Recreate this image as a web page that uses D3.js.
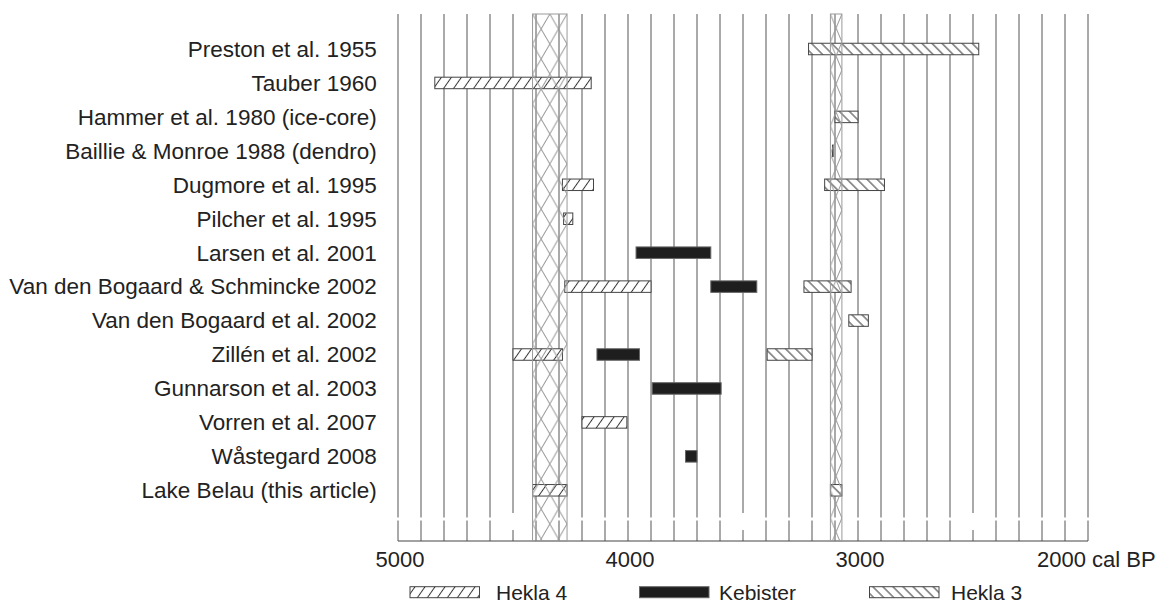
<!DOCTYPE html>
<meta charset="utf-8">
<head>
    <script src="https://d3js.org/d3.v7.min.js"></script>
    <style>
        body { margin: 0; background: #fff; }
        text { font-family: "Liberation Sans", Arial, Helvetica, sans-serif; fill: #222; }
    </style>
</head>
<body>
<div id="chart"></div>
<script>
    // data, years cal BP
    var studies = [
        "Preston et al. 1955",
        "Tauber 1960",
        "Hammer et al. 1980 (ice-core)",
        "Baillie & Monroe 1988 (dendro)",
        "Dugmore et al. 1995",
        "Pilcher et al. 1995",
        "Larsen et al. 2001",
        "Van den Bogaard & Schmincke 2002",
        "Van den Bogaard et al. 2002",
        "Zillén et al. 2002",
        "Gunnarson et al. 2003",
        "Vorren et al. 2007",
        "Wåstegard 2008",
        "Lake Belau (this article)"
    ];

    var hekla4 = [
        {study: "Tauber 1960", from: 4840, to: 4160},
        {study: "Dugmore et al. 1995", from: 4285, to: 4150},
        {study: "Pilcher et al. 1995", from: 4280, to: 4240},
        {study: "Van den Bogaard & Schmincke 2002", from: 4275, to: 3900},
        {study: "Zillén et al. 2002", from: 4500, to: 4285},
        {study: "Vorren et al. 2007", from: 4200, to: 4005},
        {study: "Lake Belau (this article)", from: 4415, to: 4265}
    ];

    var kebister = [
        {study: "Larsen et al. 2001", from: 3965, to: 3640},
        {study: "Van den Bogaard & Schmincke 2002", from: 3640, to: 3440},
        {study: "Zillén et al. 2002", from: 4135, to: 3950},
        {study: "Gunnarson et al. 2003", from: 3895, to: 3595},
        {study: "Wåstegard 2008", from: 3750, to: 3700}
    ];

    var hekla3 = [
        {study: "Preston et al. 1955", from: 3215, to: 2475},
        {study: "Hammer et al. 1980 (ice-core)", from: 3100, to: 3000},
        {study: "Baillie & Monroe 1988 (dendro)", from: 3111, to: 3108},
        {study: "Dugmore et al. 1995", from: 3145, to: 2885},
        {study: "Van den Bogaard & Schmincke 2002", from: 3235, to: 3030},
        {study: "Van den Bogaard et al. 2002", from: 3040, to: 2955},
        {study: "Zillén et al. 2002", from: 3395, to: 3200},
        {study: "Lake Belau (this article)", from: 3120, to: 3070}
    ];

    // Lake Belau ranges drawn as bands through the chart
    var bands = [
        {from: 4415, to: 4265},
        {from: 3120, to: 3070}
    ];

    var xTicks = [5000, 4000, 3000, 2000];
    var gridYears = d3.range(5000, 1999, -100);

    var width = 1158, height = 604;
    var plotTop = 14, axisY = 541;

    var svg = d3.select("#chart").append("svg")
        .attr("width", width)
        .attr("height", height);

    var x = d3.scaleLinear().domain([5000, 2000]).range([398, 1088]);
    var y = d3.scalePoint().domain(studies).range([49, 490.3]);
    var barH = 11.5;

    // patterns
    var defs = svg.append("defs");
    function hatch(id, angle, size) {
        var p = defs.append("pattern")
            .attr("id", id)
            .attr("patternUnits", "userSpaceOnUse")
            .attr("width", size).attr("height", size)
            .attr("patternTransform", "rotate(" + angle + ")");
        p.append("rect").attr("width", size).attr("height", size).attr("fill", "#fff");
        p.append("line")
            .attr("x1", size / 2).attr("x2", size / 2)
            .attr("y1", 0).attr("y2", size)
            .attr("stroke", "#333").attr("stroke-width", 1);
    }
    hatch("h4", 35, 8.2);
    hatch("h3", -45, 7.1);

    bands.forEach(function(b, i) {
        var w = x(b.to) - x(b.from);
        var cw = i == 0 ? w / 2 : w;
        var ch = i == 0 ? 30 : 28;
        var p = defs.append("pattern")
            .attr("id", "band" + i)
            .attr("patternUnits", "userSpaceOnUse")
            .attr("x", x(b.from)).attr("y", plotTop)
            .attr("width", cw).attr("height", ch);
        p.append("path")
            .attr("d", "M0,0L" + cw + "," + ch + "M" + cw + ",0L0," + ch)
            .attr("stroke", "#999").attr("stroke-width", 1).attr("fill", "none");
    });

    // grid lines, broken a little above the axis like the original
    svg.append("g").selectAll("line")
        .data(gridYears)
        .enter().append("line")
        .attr("x1", function(d) { return x(d); })
        .attr("x2", function(d) { return x(d); })
        .attr("y1", plotTop)
        .attr("y2", function(d) { return (d % 500 == 0 && d % 1000 != 0) ? 513 : 517.5; })
        .attr("stroke", "#555").attr("stroke-width", 1);
    svg.append("g").selectAll("line")
        .data(gridYears)
        .enter().append("line")
        .attr("x1", function(d) { return x(d); })
        .attr("x2", function(d) { return x(d); })
        .attr("y1", function(d) { return (d % 500 == 0 && d % 1000 != 0) ? 530 : 520.5; })
        .attr("y2", axisY)
        .attr("stroke", "#555").attr("stroke-width", 1);

    // x axis line
    svg.append("line")
        .attr("x1", x(5000)).attr("x2", x(2000))
        .attr("y1", axisY).attr("y2", axisY)
        .attr("stroke", "#444").attr("stroke-width", 1);

    // x axis labels
    svg.append("g").selectAll("text")
        .data(xTicks)
        .enter().append("text")
        .attr("x", function(d) { return d == 2000 ? x(d) - 51 : x(d) + 2; })
        .attr("y", 566.5)
        .attr("text-anchor", function(d) { return d == 2000 ? "start" : "middle"; })
        .style("font-size", "22px")
        .text(function(d) { return d == 2000 ? "2000 cal BP" : d; });

    // y labels
    svg.append("g").selectAll("text")
        .data(studies)
        .enter().append("text")
        .attr("x", 376.7)
        .attr("y", function(d) { return y(d); })
        .attr("dy", "0.35em")
        .attr("text-anchor", "end")
        .style("font-size", "22.5px")
        .text(function(d) { return d; });

    // bars
    function bars(data, fill, stroke) {
        svg.append("g").selectAll("rect")
            .data(data)
            .enter().append("rect")
            .attr("x", function(d) { return x(d.from); })
            .attr("width", function(d) { return x(d.to) - x(d.from); })
            .attr("y", function(d) { return y(d.study) - barH / 2; })
            .attr("height", barH)
            .attr("fill", fill)
            .attr("stroke", stroke)
            .attr("stroke-width", 1);
    }
    bars(hekla4, "url(#h4)", "#444");
    bars(hekla3, "url(#h3)", "#444");
    bars(kebister, "#1e1e1e", "#666");

    // tephra bands on top
    svg.append("g").selectAll("rect")
        .data(bands)
        .enter().append("rect")
        .attr("x", function(d) { return x(d.from); })
        .attr("width", function(d) { return x(d.to) - x(d.from); })
        .attr("y", plotTop)
        .attr("height", axisY - plotTop)
        .attr("fill", function(d, i) { return "url(#band" + i + ")"; })
        .attr("stroke", "#999")
        .attr("stroke-width", 1);

    // legend
    var legend = [
        {label: "Hekla 4", fill: "url(#h4)", stroke: "#444", x: 410, tx: 496},
        {label: "Kebister", fill: "#1e1e1e", stroke: "#666", x: 639.5, tx: 719},
        {label: "Hekla 3", fill: "url(#h3)", stroke: "#444", x: 869.5, tx: 951}
    ];
    var lg = svg.append("g");
    lg.selectAll("rect")
        .data(legend)
        .enter().append("rect")
        .attr("x", function(d) { return d.x; })
        .attr("y", 586.7)
        .attr("width", 69.5)
        .attr("height", 11)
        .attr("fill", function(d) { return d.fill; })
        .attr("stroke", function(d) { return d.stroke; });
    lg.selectAll("text")
        .data(legend)
        .enter().append("text")
        .attr("x", function(d) { return d.tx; })
        .attr("y", 599.5)
        .style("font-size", "21px")
        .text(function(d) { return d.label; });
</script>
</body>
